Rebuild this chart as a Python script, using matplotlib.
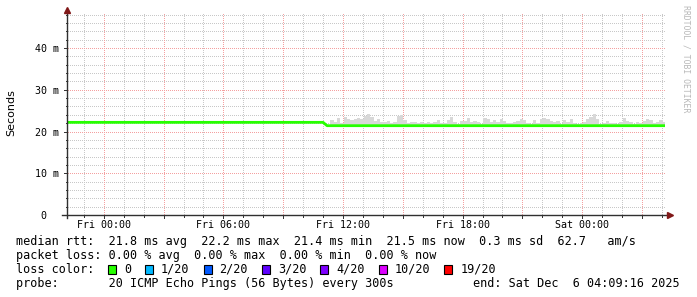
import numpy as np
import matplotlib.pyplot as plt
from matplotlib.patches import Rectangle

# time axis in hours relative to Fri 00:00
t_start = -1.846   # Thu 22:09:16
t_end = 28.155     # Sat 04:09:16

# median rtt (ms)
median_t = [t_start, 11.0, 11.2, t_end]
median_ms = [22.2, 22.2, 21.4, 21.4]

# smoke (upper edge of the ping spread, ms), 10 minute bins from Fri 11:12
smoke_start = 11.2
smoke_step = 10 / 60
smoke_floor = 21.2
smoke_top = [
    21.6, 22.8, 22.3, 23.2, 22.0, 23.4, 23.0, 22.8, 23.0, 23.3,
    23.0, 23.8, 24.3, 23.4, 22.6, 22.9, 22.2, 22.3, 22.5, 22.0,
    22.2, 23.8, 24.0, 22.8, 22.1, 22.4, 22.3, 22.0, 22.2, 22.0,
    22.3, 22.1, 22.2, 22.8, 22.0, 22.1, 22.8, 23.4, 22.3, 21.9,
    22.5, 22.6, 23.3, 22.4, 22.5, 22.2, 21.9, 23.2, 23.1, 22.3,
    22.8, 22.4, 23.0, 22.5, 22.0, 22.1, 22.4, 22.6, 23.0, 22.8,
    22.1, 21.9, 22.7, 22.0, 23.0, 23.3, 23.1, 22.5, 22.2, 22.6,
    21.9, 22.8, 22.2, 23.0, 22.0, 21.8, 22.1, 22.4, 22.9, 23.4,
    24.2, 23.0, 21.9, 22.0, 22.6, 22.1, 22.0, 21.8, 22.3, 23.2,
    22.6, 22.4, 21.9, 22.3, 22.0, 22.5, 23.0, 22.7, 22.1, 22.3,
    22.7, 22.4,
]

x_ticks = [0, 6, 12, 18, 24]
x_labels = ['Fri 00:00', 'Fri 06:00', 'Fri 12:00', 'Fri 18:00', 'Sat 00:00']
y_ticks = [0, 10, 20, 30, 40]
y_labels = ['0  ', '10 m', '20 m', '30 m', '40 m']

loss_labels = ['0', '1/20', '2/20', '3/20', '4/20', '10/20', '19/20']
loss_colors = ['#26ff00', '#00b8ff', '#0059ff', '#5e00ff', '#7e00ff', '#dd00ff', '#ff0000']

rtt_line = 'median rtt:  21.8 ms avg  22.2 ms max  21.4 ms min  21.5 ms now  0.3 ms sd  62.7   am/s'
loss_line = 'packet loss: 0.00 % avg  0.00 % max  0.00 % min  0.00 % now'
probe_line = 'probe:       20 ICMP Echo Pings (56 Bytes) every 300s'
end_line = 'end: Sat Dec  6 04:09:16 2025'

W, H = 697, 297
AX_W, AX_H = 598, 202
Y_TOP = 48.4
MONO = 'DejaVu Sans Mono'
GRID_MINOR = '#c8c8c8'
GRID_MAJOR = '#f4a0a0'
ARROW = '#801818'


def px(x, y):
    return x / W, 1 - y / H


fig = plt.figure(figsize=(W / 100, H / 100), dpi=100)
ax = fig.add_axes([67 / W, (H - 215) / H, AX_W / W, AX_H / H])
ax.set_xlim(t_start, t_end)
ax.set_ylim(0, Y_TOP)

# dotted grid: one pixel dot every second pixel
dot_y = np.arange(1, AX_H, 2) * Y_TOP / AX_H
dot_x = t_start + np.arange(1, AX_W, 2) * (t_end - t_start) / AX_W
for h in np.arange(-1, 29, 1):
    c = GRID_MAJOR if h % 3 == 0 else GRID_MINOR
    ax.plot(np.full_like(dot_y, h), dot_y, ls='none', marker='s', ms=0.72,
            mew=0, color=c, zorder=0.5 if h % 3 == 0 else 0)
for v in np.arange(2, 49, 2):
    c = GRID_MAJOR if v % 10 == 0 else GRID_MINOR
    ax.plot(dot_x, np.full_like(dot_x, v), ls='none', marker='s', ms=0.72,
            mew=0, color=c, zorder=0.5 if v % 10 == 0 else 0)

# smoke
smoke_t = smoke_start + smoke_step * np.arange(len(smoke_top))
ax.bar(smoke_t, np.array(smoke_top) - smoke_floor, bottom=smoke_floor,
       width=smoke_step, align='edge', color='#d8d8d8', lw=0, zorder=1)

# median line
ax.plot(median_t, median_ms, color=loss_colors[0], lw=2.0, zorder=3,
        solid_capstyle='butt')

for s in ax.spines.values():
    s.set_visible(False)

ax.set_xticks(x_ticks)
ax.set_xticklabels(x_labels, family=MONO, fontsize=7.2)
ax.set_yticks(y_ticks)
ax.set_yticklabels(y_labels, family=MONO, fontsize=7.2)
ax.tick_params(axis='x', length=0, pad=3.5)
ax.tick_params(axis='y', length=0, pad=6)

# axes with arrows
ax.plot([-5 / AX_W, 1.006], [0, 0], transform=ax.transAxes, color='#303030',
        lw=1.0, clip_on=False, zorder=4)
ax.plot([0, 0], [-3 / AX_H, 1.012], transform=ax.transAxes, color='#303030',
        lw=1.0, clip_on=False, zorder=4)
ax.plot([1.008], [0], marker='>', ms=4, color=ARROW, transform=ax.transAxes,
        clip_on=False, zorder=5)
ax.plot([0], [1.015], marker='^', ms=4, color=ARROW, transform=ax.transAxes,
        clip_on=False, zorder=5)

# small ticks on the axes
for h in np.arange(-1, 29, 1):
    ln = 3 if h % 3 == 0 else 1.5
    ax.plot([h, h], [0, -ln * Y_TOP / AX_H], color='#303030', lw=0.7,
            clip_on=False, zorder=4)
for v in np.arange(0, 49, 2):
    ln = 3 if v % 10 == 0 else 1.5
    ax.plot([t_start, t_start - ln * (t_end - t_start) / AX_W], [v, v],
            color='#303030', lw=0.7, clip_on=False, zorder=4)

# y label and watermark
fig.text(*px(11, 113), 'Seconds', rotation=90, ha='center', va='center',
         fontsize=8, family='DejaVu Sans')
fig.text(*px(686, 5), 'RRDTOOL / TOBI OETIKER', rotation=-90, ha='center',
         va='top', fontsize=5.9, family=MONO, color='#b8b8b8')

# legend block
fig.text(*px(16, 241.5), rtt_line, family=MONO, fontsize=8.5, va='center')
fig.text(*px(16, 255.5), loss_line, family=MONO, fontsize=8.5, va='center')
fig.text(*px(16, 269.5), 'loss color:', family=MONO, fontsize=8.5, va='center')
fig.text(*px(16, 283.5), probe_line, family=MONO, fontsize=8.5, va='center')
fig.text(*px(680, 283.5), end_line, family=MONO, fontsize=8.5, va='center',
         ha='right')

bx = 108
for lab, col in zip(loss_labels, loss_colors):
    x0, y0 = px(bx, 273.5)
    fig.add_artist(Rectangle((x0, y0), 8 / W, 9 / H, transform=fig.transFigure,
                             facecolor=col, edgecolor='black', lw=0.8))
    fig.text(*px(bx + 16, 269.5), lab, family=MONO, fontsize=8.5, va='center')
    bx = bx + 16 + len(lab) * 7.1 + 14

fig.savefig('out.png', dpi=100)
